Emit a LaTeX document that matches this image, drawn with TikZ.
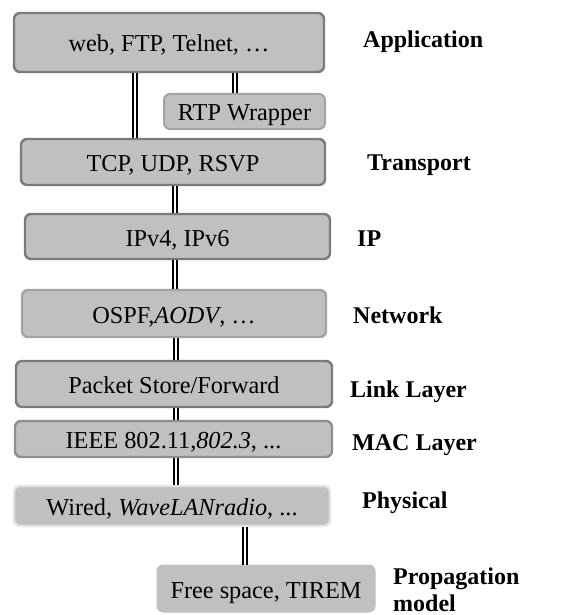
\documentclass[tikz,border=0pt]{standalone}
\usepackage{fontspec}
\setmainfont{Liberation Serif}
\definecolor{boxfill}{HTML}{C0C0C0}
\definecolor{darkedge}{HTML}{7A7A7A}
\definecolor{midedge}{HTML}{A4A4A4}
\definecolor{paleedge}{HTML}{E4E4E4}
\tikzset{
  box/.style={draw=darkedge, fill=boxfill, rounded corners=6pt, line width=2.4pt,
    inner sep=0pt, text height=19pt, text depth=0pt, font=\fontsize{24.3}{28}\selectfont},
  lbl/.style={anchor=base west, inner sep=0pt, font=\fontsize{24}{28}\selectfont\bfseries},
  dbl/.style={draw=black, line width=1.7pt, double=white, double distance=2pt}
}
\begin{document}
\begin{tikzpicture}[x=1pt,y=-1pt]
\useasboundingbox (0,0) rectangle (561,615);
% boxes
\node[box, minimum width=310pt, minimum height=59pt] (web) at (169,42.5) {web, FTP, Telnet, …};
\node[box, draw=midedge, line width=2pt, minimum width=161pt, minimum height=35pt] (rtp) at (244.5,111.5) {RTP Wrapper};
\node[box, minimum width=304pt, minimum height=46pt] (tcp) at (173,162) {TCP, UDP, RSVP};
\node[box, minimum width=305pt, minimum height=45pt] (ip) at (177.5,236.5) {IPv4, IPv6};
\node[box, draw=midedge, minimum width=304pt, minimum height=47pt] (ospf) at (174,313.5) {OSPF,\textit{AODV}, …};
\node[box, minimum width=316pt, minimum height=46pt] (pkt) at (174,384) {Packet Store/Forward};
\node[box, draw=darkedge!85!white, minimum width=317pt, minimum height=36pt] (ieee) at (173.5,439) {IEEE 802.11,\textit{802.3}, ...};
\node[box, draw=paleedge, minimum width=316pt, minimum height=40pt] (wired) at (172,506) {Wired, \textit{WaveLANradio}, ...};
\node[box, draw=boxfill, line width=1pt, minimum width=218pt, minimum height=47pt] (free) at (266,588.5) {Free space, TIREM};
% labels
\node[lbl] (lapp) at (363,48) {Application};
\node[lbl] (ltr) at (367,170.5) {Transport};
\node[lbl] (lip) at (357,246) {IP};
\node[lbl] (lnet) at (353,323) {Network};
\node[lbl] (llink) at (350,397) {Link Layer};
\node[lbl] (lmac) at (352,450) {MAC Layer};
\node[lbl] (lphy) at (362,508) {Physical};
\node[lbl] (lprop) at (393,584) {Propagation};
\node[lbl] (lmod) at (393,611) {model};
% connectors
\draw[dbl] ([xshift=-34pt]web.south) -- ([xshift=-34pt]web.south |- tcp.north);
\draw[dbl] ([xshift=-9.5pt]rtp.north |- web.south) -- ([xshift=-9.5pt]rtp.north);
\draw[dbl] ([xshift=2pt]tcp.south) -- ([xshift=2pt]tcp.south |- ip.north);
\draw[dbl] ([xshift=2pt]tcp.south |- ip.south) -- ([xshift=2pt]tcp.south |- ospf.north);
\draw[dbl] ([xshift=2pt]ospf.south) -- ([xshift=2pt]ospf.south |- pkt.north);
\draw[dbl] ([xshift=2pt]pkt.south) -- ([xshift=2pt]pkt.south |- ieee.north);
\draw[dbl] ([xshift=2.5pt]ieee.south) -- ([xshift=2.5pt]ieee.south |- wired.north);
\draw[dbl] ([xshift=-21pt]free.north |- wired.south) -- ([xshift=-21pt]free.north);
\end{tikzpicture}
\end{document}
